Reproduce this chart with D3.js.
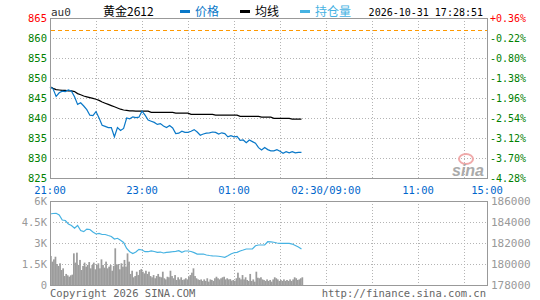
<!DOCTYPE html>
<html>
<head>
<meta charset="utf-8">
<script src="https://cdn.jsdelivr.net/npm/d3@7"></script>
<style>
  body { margin: 0; background: #fff; }
  svg { display: block; }
  text { font-family: "DejaVu Sans Mono", monospace; font-size: 10px; }
</style>
</head>
<body>
<script>
// price / average / open interest, sampled every 4 minutes from 21:00
var price = [847.8, 847.3, 845.4, 846.3, 846.7, 846.6, 847.0, 846.7, 845.3, 843.4,
  843.8, 843.0, 842.1, 840.7, 840.6, 841.6, 840.0, 838.2, 837.9, 837.6,
  837.6, 835.3, 837.6, 836.9, 837.4, 840.0, 839.8, 840.3, 840.1, 840.2,
  841.7, 840.7, 839.5, 839.2, 838.9, 838.4, 838.6, 838.0, 837.6, 838.1,
  837.5, 836.1, 836.2, 836.7, 836.4, 836.4, 836.7, 837.1, 836.5, 835.7,
  836.0, 836.2, 836.3, 836.5, 836.4, 836.0, 836.3, 836.1, 835.3, 835.6,
  835.3, 835.4, 834.4, 834.5, 833.8, 834.5, 834.1, 833.7, 832.6, 832.0,
  832.6, 832.1, 831.8, 831.8, 832.1, 831.7, 831.2, 831.6, 831.3, 831.6,
  831.3, 831.4, 831.4];

var avgPrice = [847.8, 847.4, 847.1, 847.0, 846.9, 846.9, 846.8, 846.8, 846.6, 846.1,
  845.8, 845.5, 845.3, 845.1, 844.9, 844.7, 844.4, 844.0, 843.7, 843.4,
  843.1, 842.8, 842.5, 842.2, 842.0, 841.9, 841.8, 841.8, 841.7, 841.7,
  841.7, 841.7, 841.7, 841.4, 841.4, 841.4, 841.4, 841.4, 841.4, 841.4,
  841.4, 841.2, 841.2, 841.2, 841.2, 841.2, 840.9, 840.9, 840.9, 840.9,
  840.9, 840.9, 840.9, 840.9, 840.7, 840.7, 840.7, 840.7, 840.7, 840.7,
  840.7, 840.7, 840.4, 840.4, 840.4, 840.4, 840.4, 840.4, 840.4, 840.2,
  840.2, 840.2, 840.2, 839.9, 839.9, 839.9, 839.9, 839.9, 839.9, 839.7,
  839.7, 839.7, 839.7];

var holding = [184760, 184810, 184830, 184670, 184190, 184140, 183810, 183670, 183400, 183670,
  183190, 183080, 183330, 183290, 183050, 182860, 182920, 182810, 182810, 182710,
  182620, 182380, 182450, 182260, 182050, 181480, 181170, 181000, 181140, 181400,
  181330, 181170, 181170, 181240, 181190, 181110, 181140, 181050, 181110, 181140,
  181170, 181210, 181270, 181110, 181240, 181240, 181190, 181080, 180950, 180950,
  180950, 180860, 180810, 180780, 180760, 180740, 180690, 180640, 180780, 180950,
  181070, 181110, 181240, 181330, 181430, 181430, 181430, 181740, 181810, 181810,
  181810, 182120, 182100, 182070, 182000, 181970, 181970, 181970, 181970, 181900,
  181760, 181620, 181430];

// volume, every 2 minutes
var volume = [2070, 1670, 1830, 2020, 1500, 1360, 1550, 1070, 1190, 640,
  790, 690, 590, 690, 740, 2260, 1600, 2310, 1430, 1790,
  1070, 1360, 1600, 1310, 1430, 1640, 1190, 1430, 1600, 1120,
  1430, 1550, 1190, 1830, 1430, 1240, 1670, 1190, 1310, 1430,
  1020, 1360, 2620, 1430, 1500, 1120, 1550, 1310, 1790, 1310,
  2260, 1670, 790, 1020, 550, 640, 950, 710, 1070, 1140,
  950, 830, 1020, 790, 950, 640, 550, 710, 480, 640,
  790, 590, 550, 950, 480, 400, 590, 550, 1020, 640,
  480, 710, 360, 550, 400, 550, 360, 400, 480, 400,
  590, 710, 880, 1190, 640, 480, 400, 360, 400, 290,
  400, 290, 480, 240, 400, 360, 290, 480, 590, 480,
  400, 480, 550, 590, 400, 480, 400, 420, 310, 360,
  290, 480, 880, 520, 400, 710, 400, 550, 360, 290,
  790, 290, 400, 240, 950, 520, 480, 550, 400, 360,
  290, 400, 290, 360, 240, 400, 550, 480, 400, 290,
  360, 290, 400, 290, 360, 290, 400, 290, 400, 550,
  480, 360, 400, 480, 550];

var priceTicks = [865, 860, 855, 850, 845, 840, 835, 830, 825];
var pctLabels = ["+0.36%", "-0.22%", "-0.80%", "-1.38%", "-1.96%", "-2.54%", "-3.12%", "-3.70%", "-4.28%"];
var prevClose = 861.9;
var volTicks = [6000, 4500, 3000, 1500, 0];
var volLabels = ["6K", "4.5K", "3K", "1.5K", "0"];
var holdTicks = [186000, 184000, 182000, 180000, 178000];
var timeTicks = [0, 120, 240, 360, 480, 570];
var timeLabels = ["21:00", "23:00", "01:00", "02:30/09:00", "11:00", "15:00"];

var svgWidth = 540;
var svgHeight = 300;

var svg = d3.select("body").append("svg")
    .attr("width", svgWidth)
    .attr("height", svgHeight);

// minutes on the trading axis
var x = d3.scaleLinear().domain([0, 570]).range([50, 487]);
var yP = d3.scaleLinear().domain([825, 865]).range([178, 18]);
var yV = d3.scaleLinear().domain([0, 6000]).range([285, 201]);
var yH = d3.scaleLinear().domain([178000, 186000]).range([285, 201]);

var gridMins = d3.range(60, 570, 60);

function drawGrid(yScale, ticks, top, bottom) {
    var g = svg.append("g")
        .attr("stroke", "#b4b4b4")
        .attr("stroke-dasharray", "1,2")
        .attr("shape-rendering", "crispEdges");
    g.selectAll("line.h")
        .data(ticks.slice(1, -1))
        .enter().append("line")
        .attr("x1", 50).attr("x2", 487)
        .attr("y1", d => Math.round(yScale(d)) + 0.5)
        .attr("y2", d => Math.round(yScale(d)) + 0.5);
    g.selectAll("line.v")
        .data(gridMins)
        .enter().append("line")
        .attr("x1", d => Math.round(x(d)) + 0.5)
        .attr("x2", d => Math.round(x(d)) + 0.5)
        .attr("y1", top).attr("y2", bottom);
}

drawGrid(yP, priceTicks, 18, 178);
drawGrid(yV, volTicks, 201, 285);

// previous close
svg.append("line")
    .attr("x1", 51).attr("x2", 487)
    .attr("y1", Math.round(yP(prevClose)) + 0.5)
    .attr("y2", Math.round(yP(prevClose)) + 0.5)
    .attr("stroke", "#ff9900")
    .attr("stroke-dasharray", "4,3");

// sina watermark
svg.append("ellipse")
    .attr("cx", 466).attr("cy", 159)
    .attr("rx", 7).attr("ry", 5)
    .attr("fill", "none")
    .attr("stroke", "#f0aaaa")
    .attr("stroke-width", 2);
svg.append("text")
    .attr("x", 468).attr("y", 176)
    .attr("text-anchor", "middle")
    .style("font-family", "Liberation Sans, Arial")
    .style("font-size", "16px")
    .style("font-style", "italic")
    .style("font-weight", "bold")
    .attr("fill", "#aaaaaa")
    .text("sina");

// volume bars
var step = x(2) - x(0);
svg.append("g")
    .selectAll("rect")
    .data(volume)
    .enter().append("rect")
    .attr("x", (d, i) => x(i * 2))
    .attr("y", d => yV(d))
    .attr("width", step + 0.2)
    .attr("height", d => yV(0) - yV(d))
    .attr("fill", "#9c9c9c");

var holdLine = d3.line()
    .x((d, i) => x(i * 4))
    .y(d => yH(d));

svg.append("path")
    .datum(holding)
    .attr("d", holdLine)
    .attr("fill", "none")
    .attr("stroke", "#46b2e2")
    .attr("stroke-width", 1.2);

var priceLine = d3.line()
    .x((d, i) => x(i * 4))
    .y(d => yP(d));

svg.append("path")
    .datum(avgPrice)
    .attr("d", priceLine)
    .attr("fill", "none")
    .attr("stroke", "#000")
    .attr("stroke-width", 1.2);

svg.append("path")
    .datum(price)
    .attr("d", priceLine)
    .attr("fill", "none")
    .attr("stroke", "#0a78c8")
    .attr("stroke-width", 1.2);

// frames
[[18, 178], [201, 285]].forEach(function (p) {
    svg.append("rect")
        .attr("x", 50.5).attr("y", p[0] + 0.5)
        .attr("width", 437).attr("height", p[1] - p[0])
        .attr("fill", "none")
        .attr("stroke", "#999")
        .attr("shape-rendering", "crispEdges");
});

// left price labels
svg.append("g")
    .selectAll("text")
    .data(priceTicks)
    .enter().append("text")
    .attr("x", 47)
    .attr("y", d => yP(d))
    .attr("dy", "0.35em")
    .attr("text-anchor", "end")
    .attr("fill", (d, i) => i === 0 ? "#ff0000" : "#008000")
    .style("font-size", "10.5px")
    .text(d => d);

// right percent labels
svg.append("g")
    .selectAll("text")
    .data(pctLabels)
    .enter().append("text")
    .attr("x", 490)
    .attr("y", (d, i) => yP(priceTicks[i]))
    .attr("dy", "0.35em")
    .attr("fill", (d, i) => i === 0 ? "#ff0000" : "#008000")
    .text(d => d);

// volume labels
svg.append("g")
    .selectAll("text")
    .data(volTicks)
    .enter().append("text")
    .attr("x", 47)
    .attr("y", d => yV(d))
    .attr("dy", "0.35em")
    .attr("text-anchor", "end")
    .attr("fill", "#999")
    .style("font-size", "10.5px")
    .text((d, i) => volLabels[i]);

svg.append("g")
    .selectAll("text")
    .data(holdTicks)
    .enter().append("text")
    .attr("x", 491)
    .attr("y", d => yH(d))
    .attr("dy", "0.35em")
    .attr("fill", "#999")
    .style("font-size", "11px")
    .text(d => d);

// time labels
svg.append("g")
    .selectAll("text")
    .data(timeTicks)
    .enter().append("text")
    .attr("x", d => x(d))
    .attr("y", 190.5)
    .attr("dy", "0.35em")
    .attr("text-anchor", "middle")
    .attr("fill", "#0066cc")
    .style("font-size", "10.5px")
    .text((d, i) => timeLabels[i]);

// header
svg.append("text").attr("x", 51).attr("y", 12).attr("dy", "0.35em")
    .attr("fill", "#333").style("font-size", "11px").text("au0");
svg.append("text").attr("x", 103).attr("y", 12).attr("dy", "0.35em")
    .style("font-family", "Noto Sans CJK SC").style("font-size", "12px")
    .attr("fill", "#000").text("黄金2612");

var legend = [
    { name: "价格", color: "#0a78c8", x: 180 },
    { name: "均线", color: "#000", x: 240 },
    { name: "持仓量", color: "#46b2e2", x: 300 }
];
legend.forEach(function (l) {
    svg.append("rect").attr("x", l.x).attr("y", 10).attr("width", 10).attr("height", 3)
        .attr("fill", l.color);
    svg.append("text").attr("x", l.x + 15).attr("y", 12).attr("dy", "0.35em")
        .style("font-family", "Noto Sans CJK SC").style("font-size", "12px")
        .attr("fill", l.color).text(l.name);
});

svg.append("text").attr("x", 483).attr("y", 12).attr("dy", "0.35em")
    .attr("text-anchor", "end").attr("fill", "#000")
    .text("2026-10-31 17:28:51");

// footer
svg.append("text").attr("x", 50).attr("y", 293).attr("dy", "0.35em")
    .attr("fill", "#666").style("font-size", "10.5px")
    .text("Copyright 2026 SINA.COM");
svg.append("text").attr("x", 486).attr("y", 293).attr("dy", "0.35em")
    .attr("text-anchor", "end").attr("fill", "#666").style("font-size", "10.5px")
    .text("http://finance.sina.com.cn");
</script>
</body>
</html>
